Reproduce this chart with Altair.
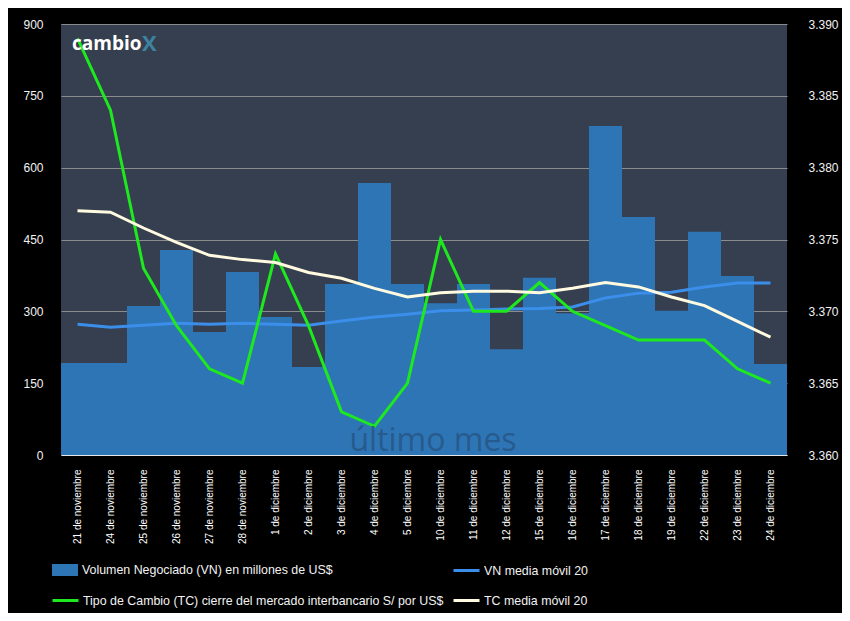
import altair as alt
import pandas as pd

dates = ["21 de noviembre", "24 de noviembre", "25 de noviembre", "26 de noviembre",
         "27 de noviembre", "28 de noviembre", "1 de diciembre", "2 de diciembre",
         "3 de diciembre", "4 de diciembre", "5 de diciembre", "10 de diciembre",
         "11 de diciembre", "12 de diciembre", "15 de diciembre", "16 de diciembre",
         "17 de diciembre", "18 de diciembre", "19 de diciembre", "22 de diciembre",
         "23 de diciembre", "24 de diciembre"]

vn = [192, 192, 311, 428, 257, 382, 288, 184, 357, 568, 357, 317,
      357, 221, 370, 296, 687, 497, 301, 466, 374, 190]
vn_ma = [273, 267, 271, 275, 273, 275, 273, 271, 280, 288, 294, 301,
         303, 305, 306, 309, 328, 338, 340, 351, 359, 359]
tc = [3.389, 3.384, 3.373, 3.369, 3.366, 3.365, 3.374, 3.369, 3.363, 3.362, 3.365,
      3.375, 3.370, 3.370, 3.372, 3.370, 3.369, 3.368, 3.368, 3.368, 3.366, 3.365]
tc_ma = [3.3770, 3.3769, 3.3758, 3.3748, 3.3739, 3.3736, 3.3734, 3.3727, 3.3723,
         3.3716, 3.3710, 3.3713, 3.3714, 3.3714, 3.3713, 3.3716, 3.3720, 3.3717,
         3.3710, 3.3704, 3.3693, 3.3682]

left_ticks = [0, 150, 300, 450, 600, 750, 900]
right_ticks = [3.360, 3.365, 3.370, 3.375, 3.380, 3.385, 3.390]

name_vn = "Volumen Negociado (VN) en millones de US$"
name_vnma = "VN media móvil 20"
name_tc = " Tipo de Cambio (TC) cierre del mercado interbancario S/ por US$"
name_tcma = "TC media móvil 20"

df = pd.DataFrame({"fecha": dates, "vn": vn, "vn_ma": vn_ma, "tc": tc, "tc_ma": tc_ma})

FONT = "Liberation Sans"
LBL = "#F2F2F2"

x_enc = alt.X("fecha:N", sort=dates,
              scale=alt.Scale(paddingInner=0, paddingOuter=0),
              axis=alt.Axis(title=None, labelAngle=270, labelFontSize=10, labelColor="#FFFFFF",
                            labelFont=FONT, ticks=False, labelPadding=14, domain=True,
                            domainColor="#E6E6E6", domainWidth=1, grid=False))

left_scale = alt.Scale(domain=[0, 900], nice=False, zero=True)
right_scale = alt.Scale(domain=[3.36, 3.39], nice=False, zero=False)


def leg(x, y, stype, offset=3, stroke=True):
    kw = dict(orient="none", legendX=x, legendY=y, title=None, labelFont=FONT,
              labelFontSize=12.4, labelColor=LBL, labelOffset=offset, labelLimit=0,
              padding=0, symbolType=stype, symbolSize=676)
    if stroke:
        kw["symbolStrokeWidth"] = 3
    return alt.Legend(**kw)


base = alt.Chart(df)

bars = base.mark_bar(strokeWidth=0).transform_calculate(serie=f'"{name_vn}"').encode(
    x=x_enc,
    y=alt.Y("vn:Q", scale=left_scale,
            axis=alt.Axis(title=None, values=left_ticks, orient="left", grid=True,
                          gridColor="#8C8C8C", gridWidth=1, domain=False, ticks=False,
                          labelFont=FONT, labelFontSize=12, labelColor=LBL, labelPadding=18)),
    fill=alt.Fill("serie:N", scale=alt.Scale(domain=[name_vn], range=["#2E75B6"]),
                  legend=leg(-10, 532, "M-1,-0.46H1V0.46H-1Z", stroke=False)),
)

vn_line = base.mark_line(strokeWidth=3).transform_calculate(serie=f'"{name_vnma}"').encode(
    x=x_enc,
    y=alt.Y("vn_ma:Q", scale=left_scale, axis=None),
    stroke=alt.Stroke("serie:N", scale=alt.Scale(domain=[name_vnma], range=["#3C8EEB"]),
                      legend=leg(391, 532, "stroke")),
)

tc_line = base.mark_line(strokeWidth=3).transform_calculate(serie=f'"{name_tc}"').encode(
    x=x_enc,
    y=alt.Y("tc:Q", scale=right_scale,
            axis=alt.Axis(title=None, values=right_ticks, orient="right", format=".3f",
                          grid=False, domain=False, ticks=False, labelFont=FONT,
                          labelFontSize=12, labelColor=LBL, labelPadding=21)),
    stroke=alt.Stroke("serie:N", scale=alt.Scale(domain=[name_tc], range=["#1EE81E"]),
                      legend=leg(-10, 562, "stroke", offset=3)),
)

tcma_line = base.mark_line(strokeWidth=3).transform_calculate(serie=f'"{name_tcma}"').encode(
    x=x_enc,
    y=alt.Y("tc_ma:Q", scale=right_scale, axis=None),
    stroke=alt.Stroke("serie:N", scale=alt.Scale(domain=[name_tcma], range=["#FFFAE0"]),
                      legend=leg(391, 562, "stroke")),
)

wm_df = pd.DataFrame({"t": ["último mes"]})
watermark = alt.Chart(wm_df).mark_text(font="Open Sans", fontSize=32, color="#275B8D",
                                       align="center", baseline="alphabetic").encode(
    text="t:N", x=alt.value(372), y=alt.value(427))

logo_df = pd.DataFrame({"t": ["cambio"]})
logo = alt.Chart(logo_df).mark_text(font="Open Sans", fontSize=19, fontWeight="bold",
                                    color="#FFFFFF", align="left",
                                    baseline="alphabetic").encode(
    text="t:N", x=alt.value(11), y=alt.value(26))
logo_x_df = pd.DataFrame({"t": ["X"]})
logo_x = alt.Chart(logo_x_df).mark_text(font="Open Sans", fontSize=22, fontWeight="bold",
                                        color="#3F8FB0", opacity=0.85, align="left",
                                        baseline="alphabetic").encode(
    text="t:N", x=alt.value(81), y=alt.value(27))

chart = alt.layer(bars, vn_line, tc_line, tcma_line, watermark, logo, logo_x).resolve_scale(
    y="independent", stroke="independent", fill="independent"
).properties(
    width=726, height=431,
    background="#000000",
    padding={"left": 53, "top": 16, "right": 55, "bottom": 158},
    autosize=alt.AutoSizeParams(type="none"),
).configure_view(fill="#353F4F", stroke=None)

chart.save("out.html", embed_options={"renderer": "svg", "actions": False})
